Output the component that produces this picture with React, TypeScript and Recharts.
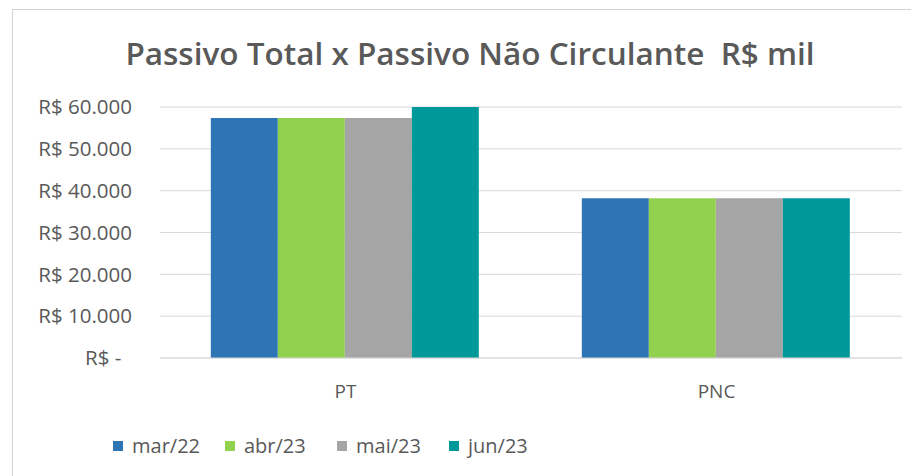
import { BarChart, Bar, XAxis, YAxis, CartesianGrid, Legend } from 'recharts';

const categories = ['PT', 'PNC'];
const mar22 = [57400, 38200];
const abr23 = [57400, 38200];
const mai23 = [57400, 38200];
const jun23 = [60000, 38200];
const yTicks = [0, 10000, 20000, 30000, 40000, 50000, 60000];

const SERIES = [
  { key: 'mar22', name: 'mar/22', color: '#2E75B6' },
  { key: 'abr23', name: 'abr/23', color: '#92D050' },
  { key: 'mai23', name: 'mai/23', color: '#A5A5A5' },
  { key: 'jun23', name: 'jun/23', color: '#00999A' },
];

const TEXT = '#595959';
const FONT = '"Open Sans", sans-serif';

const data = categories.map((name, i) => ({
  name,
  mar22: mar22[i],
  abr23: abr23[i],
  mai23: mai23[i],
  jun23: jun23[i],
}));

// Excel accounting style: "R$ 60.000", zero shown as "R$ -"
function formatReal(v: number) {
  if (v === 0) return 'R$ -\u00a0\u00a0';
  return 'R$ ' + String(v).replace(/\B(?=(\d{3})+(?!\d))/g, '.');
}

function renderLegend(props: any) {
  const order = SERIES.map((s) => s.name);
  const payload = [...(props.payload ?? [])].sort(
    (a: any, b: any) => order.indexOf(a.value) - order.indexOf(b.value)
  );
  return (
    <div style={{ display: 'flex', fontFamily: FONT, fontSize: 20, color: TEXT }}>
      {payload.map((p: any) => (
        <div key={p.value} style={{ width: 112, display: 'flex', alignItems: 'center' }}>
          <span style={{ width: 10, height: 10, background: p.color, marginRight: 9, display: 'inline-block' }} />
          <span>{p.value}</span>
        </div>
      ))}
    </div>
  );
}

export default function App() {
  return (
    <div style={{ position: 'absolute', left: 0, top: 0, width: 911, height: 476, background: '#fff', overflow: 'hidden' }}>
      <div
        style={{
          position: 'absolute',
          left: 12,
          top: 9,
          right: 0,
          bottom: 0,
          borderTop: '1px solid #d4d4d4',
          borderLeft: '1px solid #d4d4d4',
        }}
      />
      <div
        style={{
          position: 'absolute',
          left: 0,
          top: 37,
          width: 940,
          textAlign: 'center',
          fontFamily: FONT,
          fontWeight: 600,
          fontSize: 31.5,
          lineHeight: '32px',
          color: TEXT,
          whiteSpace: 'pre',
        }}
      >
        Passivo Total x Passivo Não Circulante  R$ mil
      </div>
      <BarChart
        width={911}
        height={476}
        data={data}
        margin={{ top: 107, right: 9, bottom: 78, left: 0 }}
        barCategoryGap="13.7%"
        barGap={0}
        style={{ position: 'absolute', left: 0, top: 0 }}
      >
        <CartesianGrid vertical={false} stroke="#d9d9d9" />
        <XAxis
          dataKey="name"
          height={40}
          axisLine={{ stroke: '#d9d9d9' }}
          tickLine={false}
          tickMargin={21}
          tick={{ fill: TEXT, fontSize: 19, fontFamily: FONT }}
        />
        <YAxis
          width={160}
          domain={[0, 60000]}
          ticks={yTicks}
          axisLine={false}
          tickLine={false}
          tickMargin={22}
          tickFormatter={formatReal}
          tick={{ fill: TEXT, fontSize: 20.5, fontFamily: FONT }}
        />
        <Legend
          layout="horizontal"
          verticalAlign="middle"
          align="center"
          content={renderLegend}
          wrapperStyle={{ left: 113, top: 432, width: 500 }}
        />
        {SERIES.map((s) => (
          <Bar key={s.key} dataKey={s.key} name={s.name} fill={s.color} isAnimationActive={false} />
        ))}
      </BarChart>
    </div>
  );
}
